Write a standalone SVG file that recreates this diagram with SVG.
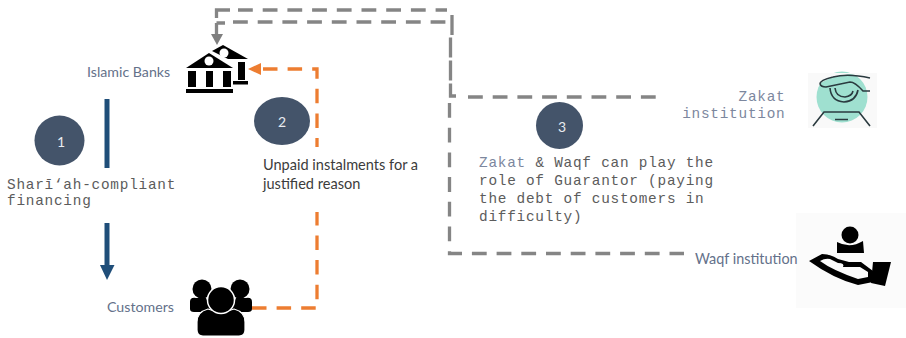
<svg xmlns="http://www.w3.org/2000/svg" width="906" height="338" viewBox="0 0 906 338">
<style>
.s{font-family:"Lato","Open Sans",sans-serif;font-size:14.2px;fill:#64718a}
.b{font-family:"Lato","Open Sans",sans-serif;font-size:14.55px;fill:#3c3c3c}
.m{font-family:"Liberation Mono",monospace;font-size:14.4px;letter-spacing:.76px;fill:#5c5c5c}
.mz{fill:#7c879e}
.n{font-family:"Lato","Open Sans",sans-serif;font-size:14px;fill:#e8ebf0;text-anchor:middle}
.dot{fill:#44546a}
.gr{fill:none;stroke:#858585;stroke-width:3.3;stroke-dasharray:14.800 9.900}
.or{fill:none;stroke:#ed7d31;stroke-width:3.300;stroke-dasharray:14.500 10.100}
.bl{fill:none;stroke:#1f4e79;stroke-width:5}
.k{fill:#000}
.z{fill:none;stroke:#2a3a3f;stroke-width:1.600}
</style>
<g id="connectors">
<path fill="none" stroke="#858585" stroke-width="3.300" d="M230 10H216.500V18M216.500 23H225M216.500 23V35"/>
<path class="gr" d="M238 10H447"/>
<path class="gr" d="M233 22H447"/>
<path fill="#7f7f7f" d="M211 34H223L217 45Z"/>
<path class="gr" d="M452 15V35L450.500 37V96H456" style="stroke-dasharray:20 3"/>
<path class="gr" d="M468 97H656"/>
<path class="gr" d="M449.500 103V253.500H684"/>
<path class="or" d="M263 69H317V147"/>
<path fill="#ed7d31" d="M248 69L261 63V75Z"/>
<path class="or" d="M252 308H317V212"/>
<path class="bl" d="M107 99V168"/>
<path class="bl" d="M107 223V266"/>
<path fill="#1f4e79" d="M100 265H114.500L107 280Z"/>
</g>
<g id="islamic-banks">
<text class="s" x="87" y="77">Islamic Banks</text>
<g class="k">
<path d="M186 68L209 53L233 68Z"/>
<path d="M212 51L223 45L248 59H228Z"/>
<path d="M188 71H196V87H188ZM206 71H213V87H206ZM223 71H231V87H223Z"/>
<path d="M238 62H245V80H238ZM233 81H248V84.500H233Z"/>
<path d="M186 89H233V93H186Z"/>
</g>
<circle cx="209" cy="61" r="4.500" fill="#fff"/>
<circle cx="224" cy="53" r="4.500" fill="#fff"/>
</g>
<g id="customers">
<text class="s" x="107" y="312">Customers</text>
<g class="k">
<circle cx="202" cy="289" r="9.500"/>
<circle cx="240" cy="289" r="9.500"/>
<path d="M190 309V302Q190 297 196 298L206 298L212 312H194Q190 312 190 309ZM252 309V302Q252 297 246 298L236 298L230 312H248Q252 312 252 309Z"/>
</g>
<path d="M197 330V322Q197 312 208 309L221 313L234 309Q245 312 245 322V330Q245 336 239 336H203Q197 336 197 330Z" fill="#000" stroke="#fff" stroke-width="1.200"/>
<circle cx="221" cy="300" r="13.500" fill="#000" stroke="#fff" stroke-width="1.500"/>
</g>
<g id="step-1">
<circle class="dot" cx="59.500" cy="140.500" r="25"/>
<text class="n" x="61" y="146.500">1</text>
<text class="m" x="7" y="189">Sharī‘ah-compliant</text>
<text class="m" x="7" y="205">financing</text>
</g>
<g id="step-2">
<ellipse class="dot" cx="282" cy="121" rx="28" ry="24"/>
<text class="n" x="282" y="127">2</text>
<text class="b" x="263" y="170">Unpaid instalments for a</text>
<text class="b" x="263" y="189">justified reason</text>
</g>
<g id="step-3">
<circle class="dot" cx="559.500" cy="125.500" r="23.500"/>
<text class="n" x="562" y="132">3</text>
<text class="m" x="479" y="166.500"><tspan class="mz">Zakat</tspan> &amp; Waqf can play the</text>
<text class="m" x="479" y="185">role of Guarantor (paying</text>
<text class="m" x="479" y="203">the debt of customers in</text>
<text class="m" x="479" y="220.500">difficulty)</text>
</g>
<g id="zakat-institution">
<rect x="808" y="73" width="69" height="55" fill="#f9f9f9"/>
<circle cx="842" cy="97" r="25.500" fill="#9fe0d0"/>
<path d="M808 73H877V78L850 74L833 77L820 83L814 90H808Z" fill="#f9f9f9"/>
<path class="z" d="M820 84Q820 80 833 77Q848 73 870 78M820 84Q821 87 826 87L850 82Q855 82 863 91L870 91M830 88Q831 101 844 102Q856 101 858 90M835 88Q836 97 845 97Q852 96 853 91"/>
<path class="z" d="M813 126L824 112H859L870 126M835 119.500H848"/>
<text class="m mz" x="785.500" y="100.500" text-anchor="end">Zakat</text>
<text class="m mz" x="785.500" y="118" text-anchor="end">institution</text>
</g>
<g id="waqf-institution">
<rect x="796" y="213" width="110" height="95" fill="#fbfbfb"/>
<text class="s" x="695" y="264" style="font-size:14.400px">Waqf institution</text>
<g class="k">
<circle cx="850" cy="235" r="8.500"/>
<path d="M837 242Q850 249 863 241L864 253H837Z"/>
<path d="M873 262H891L885 286L871 283Z"/>
<path d="M809 261L822 254Q830 254 838 259L849 262H861L873 271V282L858 285Q834 279 809 261ZM820 261Q832 270 858 279L868 277V272L860 267H843Q845 263 838 263L830 259Q825 258 820 261Z" fill-rule="evenodd"/>
</g>
</g>
</svg>
